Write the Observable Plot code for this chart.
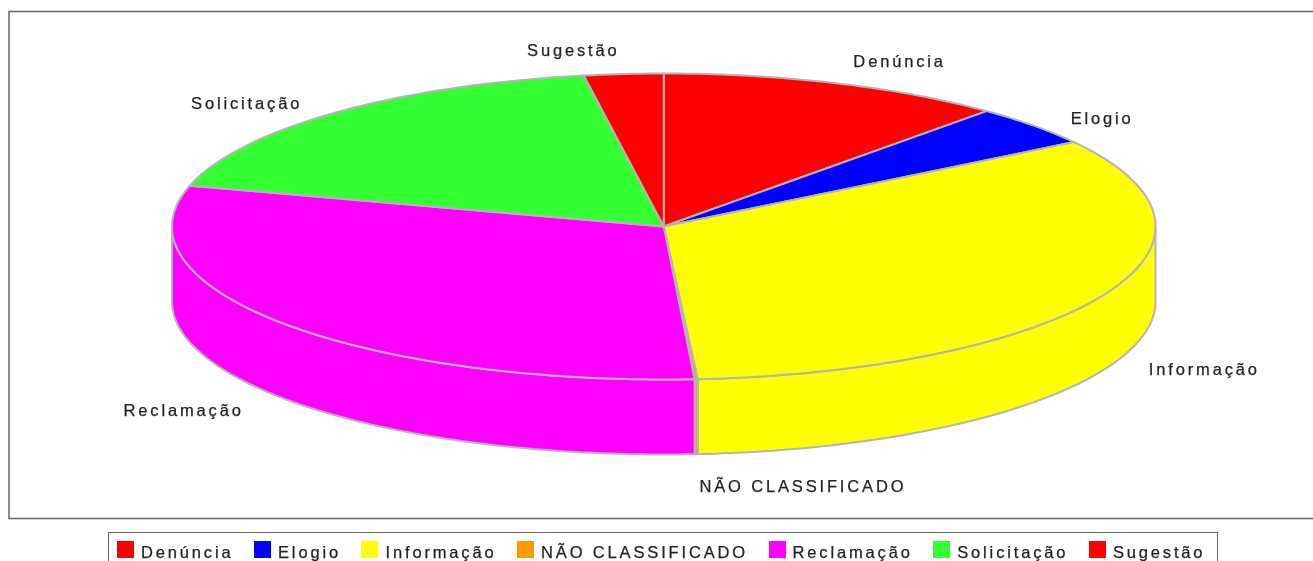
<!DOCTYPE html>
<html>
<head>
<meta charset="utf-8">
<script src="https://cdn.jsdelivr.net/npm/d3@7"></script>
<script src="https://cdn.jsdelivr.net/npm/@observablehq/plot@0.6"></script>
<style>
html,body{margin:0;padding:0;background:#fff;overflow:hidden;height:561px;}
#chart svg{display:block;filter:blur(0.6px);}
#legend{position:absolute;left:108px;top:532px;width:1108px;height:40px;border:1px solid #666;box-sizing:content-box;
 display:flex;align-items:flex-start;padding-top:8px;font-family:"Liberation Sans",Arial,sans-serif;font-size:16.5px;letter-spacing:2.85px;color:#222;-webkit-text-stroke:0.25px #222;filter:blur(0.6px);}
#legend .item{display:flex;align-items:flex-start;margin-left:8px;margin-right:12.5px;white-space:nowrap;line-height:22px;}
#legend .sw{width:17px;height:17px;margin-right:7px;margin-top:0;}
</style>
</head>
<body>
<div id="chart"></div>
<div id="legend"></div>
<script>
const categories = ["Denúncia","Elogio","Informação","NÃO CLASSIFICADO","Reclamação","Solicitação","Sugestão"];
const shares = [11.4,4.3,33.2,0.1,30.3,18.1,2.6];
const colors = ["#ff0000","#0000ff","#ffff00","#ff9900","#ff00ff","#33ff33","#ff0000"];
const labelNudge = [0.048,-0.023,0.04,-0.11,-0.024,-0.013,0.053];

const depth = 0.49;
const total = d3.sum(shares);
let cum = 0;
const slices = categories.map((name,i)=>{
  const a0 = cum/total*2*Math.PI; cum += shares[i];
  return {name,a0,a1:cum/total*2*Math.PI,i};
});
function arcPts(a0,a1){
  const n = Math.max(2,Math.ceil((a1-a0)/(Math.PI/180)));
  return d3.range(n+1).map(k=>{const a=a0+(a1-a0)*k/n;return [Math.sin(a),Math.cos(a)];});
}
const rows = [];
function push(key,name,pts){pts.forEach(([x,y])=>rows.push({key,name,x,y}));}
for(const s of slices){
  const lo=Math.max(s.a0,Math.PI/2), hi=Math.min(s.a1,3*Math.PI/2);
  if(hi>lo){
    const top=arcPts(lo,hi);
    const bottom=top.map(([x,y])=>[x,y-depth]).reverse();
    push(s.name+"|side",s.name,[...top,...bottom,top[0]]);
  }
}
for(const s of slices){
  push(s.name+"|top",s.name,[[0,0],...arcPts(s.a0,s.a1),[0,0]]);
}
const labels = slices.map(s=>{
  const mid=(s.a0+s.a1)/2, sn=Math.sin(mid), cs=Math.cos(mid);
  return {name:s.name,x:1.1*sn,y:1.1*cs-(cs<0?depth:0)+labelNudge[s.i],side:sn>=0?"start":"end"};
});

const textStyle={x:"x",y:"y",text:"name",fontSize:16.5,fill:"#222",stroke:"#222",strokeWidth:0.25};
const chart = Plot.plot({
  width:1313,height:520,
  marginLeft:8.5,marginTop:11,marginRight:-2,marginBottom:2,
  x:{axis:null,domain:[-1,1],range:[171.5,1155]},
  y:{axis:null,domain:[-1,1],range:[379,73]},
  color:{domain:categories,range:colors},
  style:{fontFamily:"'Liberation Sans',Arial,sans-serif",letterSpacing:"2.85px",background:"#fff",overflow:"hidden"},
  marks:[
    Plot.frame({stroke:"#666",strokeWidth:1.5}),
    Plot.line(rows,{x:"x",y:"y",z:"key",fill:"name",stroke:"#b4b4b4",strokeWidth:2,strokeLinejoin:"round"}),
    Plot.text(labels.filter(d=>d.side==="start"),{...textStyle,textAnchor:"start"}),
    Plot.text(labels.filter(d=>d.side==="end"),{...textStyle,textAnchor:"end"})
  ]
});
document.getElementById("chart").append(chart);

const legend=document.getElementById("legend");
categories.forEach((c,i)=>{
  const item=document.createElement("div");item.className="item";
  const sw=document.createElement("div");sw.className="sw";sw.style.background=colors[i];
  const t=document.createElement("span");t.textContent=c;
  item.append(sw,t);legend.append(item);
});
</script>
</body>
</html>
